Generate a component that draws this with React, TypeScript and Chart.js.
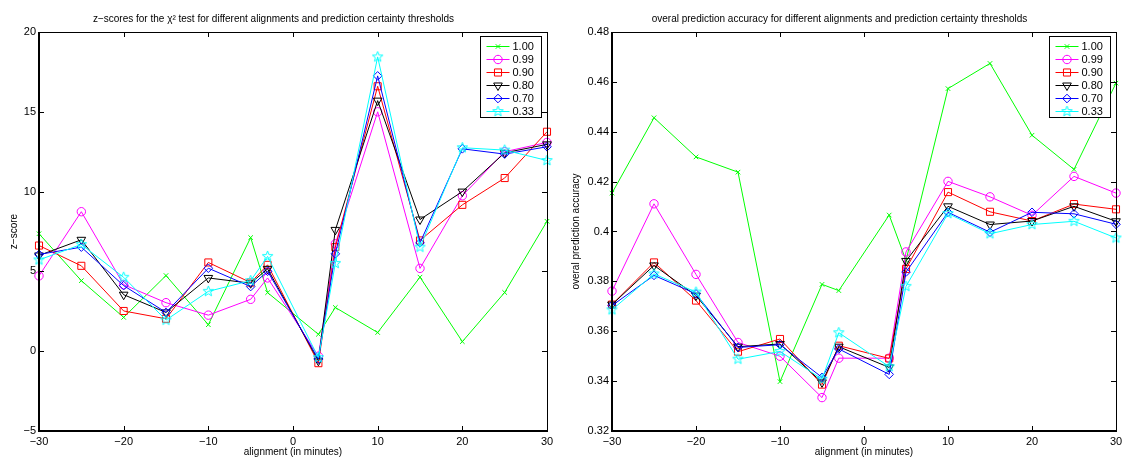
import React, { useEffect, useRef } from 'react';
import { Chart, registerables } from 'chart.js';
import { drawPoint } from 'chart.js/helpers';

Chart.register(...registerables);

// ---- data ----
const alignments = [-30, -25, -20, -15, -10, -5, -3, 3, 5, 10, 15, 20, 25, 30];
const thresholds = ['1.00', '0.99', '0.90', '0.80', '0.70', '0.33'];

const z100 = [7.36, 4.42, 2.12, 4.74, 1.66, 7.12, 3.67, 1.06, 2.74, 1.17, 4.64, 0.6, 3.68, 8.14];
const z099 = [4.72, 8.74, 4.17, 3.04, 2.26, 3.25, 4.59, -0.31, 6.73, 15.0, 5.19, 9.74, 12.5, 13.08];
const z090 = [6.62, 5.35, 2.52, 2.03, 5.56, 4.3, 5.41, -0.75, 6.52, 16.6, 6.94, 9.17, 10.85, 13.75];
const z080 = [6.0, 6.98, 3.54, 2.43, 4.59, 4.26, 5.16, -0.6, 7.6, 15.7, 8.25, 10.0, 12.43, 12.96];
const z070 = [6.06, 6.52, 4.11, 2.43, 5.2, 4.05, 5.01, -0.5, 6.1, 17.25, 6.79, 12.68, 12.35, 12.81];
const z033 = [5.72, 6.69, 4.63, 1.95, 3.75, 4.42, 5.94, -0.4, 5.5, 18.44, 6.52, 12.75, 12.6, 11.95];

const a100 = [0.4154, 0.4456, 0.4299, 0.4238, 0.3398, 0.3788, 0.3763, 0.4066, 0.3884, 0.4573, 0.4674, 0.4386, 0.4249, 0.4595];
const a099 = [0.3761, 0.4111, 0.3828, 0.3555, 0.35, 0.3334, 0.3492, 0.3492, 0.3918, 0.4201, 0.4139, 0.4065, 0.4221, 0.4154];
const a090 = [0.3707, 0.3876, 0.3723, 0.3518, 0.3569, 0.3386, 0.3542, 0.3491, 0.385, 0.4158, 0.4079, 0.4042, 0.411, 0.4089];
const a080 = [0.3707, 0.3864, 0.3743, 0.3538, 0.3549, 0.3395, 0.3538, 0.3455, 0.3882, 0.4101, 0.4028, 0.4042, 0.4101, 0.4041];
const a070 = [0.3703, 0.3824, 0.375, 0.3535, 0.3546, 0.3415, 0.3529, 0.3427, 0.3837, 0.4077, 0.3997, 0.4077, 0.4071, 0.4029];
const a033 = [0.3686, 0.383, 0.3757, 0.3488, 0.3519, 0.3408, 0.3594, 0.3458, 0.378, 0.4072, 0.3991, 0.4028, 0.4041, 0.3974];

const xTicks = { min: -30, max: 30, step: 10 };
const zTicks = { min: -5, max: 20, step: 5 };
const aTicks = { min: 0.32, max: 0.48, step: 0.02 };

const colors = ['#00ff00', '#ff00ff', '#ff0000', '#000000', '#0000ff', '#00ffff'];

// ---- helpers ----
function makeStar(color: string, r: number) {
  const c = document.createElement('canvas');
  const s = Math.ceil(r * 2 + 2);
  c.width = s;
  c.height = s;
  const ctx = c.getContext('2d')!;
  ctx.strokeStyle = color;
  ctx.lineWidth = 1;
  ctx.beginPath();
  for (let i = 0; i < 10; i++) {
    const ang = -Math.PI / 2 + (i * Math.PI) / 5;
    const rr = i % 2 === 0 ? r : r * 0.42;
    ctx.lineTo(s / 2 + rr * Math.cos(ang), s / 2 + rr * Math.sin(ang));
  }
  ctx.closePath();
  ctx.stroke();
  return c;
}

const FONT = '"Liberation Sans", Arial, Helvetica, sans-serif';
Chart.defaults.font.family = FONT;

const minus = (s: string) => s.replace('-', '\u2212');

function markerStyles() {
  return [
    { pointStyle: 'crossRot', radius: 3.2, rotation: 0 },
    { pointStyle: 'circle', radius: 4.2, rotation: 0 },
    { pointStyle: 'rect', radius: 5, rotation: 0 },
    { pointStyle: 'triangle', radius: 5, rotation: 180 },
    { pointStyle: 'rectRot', radius: 4.3, rotation: 0 },
    { pointStyle: makeStar('#00ffff', 5.5) as any, radius: 5, rotation: 0 },
  ];
}

const boxPlugin = {
  id: 'matlabBox',
  afterDraw(chart: any) {
    const { ctx, chartArea } = chart;
    const { left, right, top, bottom } = chartArea;
    const xs = chart.scales.x;
    const ys = chart.scales.y;
    ctx.save();
    ctx.strokeStyle = '#000';
    ctx.lineWidth = 1;
    const tl = 5;
    ctx.beginPath();
    xs.ticks.forEach((t: any) => {
      const px = Math.round(xs.getPixelForValue(t.value)) + 0.5;
      ctx.moveTo(px, bottom);
      ctx.lineTo(px, bottom - tl);
      ctx.moveTo(px, top);
      ctx.lineTo(px, top + tl);
    });
    ys.ticks.forEach((t: any) => {
      const py = Math.round(ys.getPixelForValue(t.value)) + 0.5;
      ctx.moveTo(left, py);
      ctx.lineTo(left + tl, py);
      ctx.moveTo(right, py);
      ctx.lineTo(right - tl, py);
    });
    ctx.stroke();
    // box
    ctx.beginPath();
    ctx.moveTo(left, top + 0.5);
    ctx.lineTo(right, top + 0.5);
    ctx.moveTo(right + 0.5, top);
    ctx.lineTo(right + 0.5, bottom);
    ctx.stroke();
    ctx.lineWidth = 2;
    ctx.beginPath();
    ctx.moveTo(left, top);
    ctx.lineTo(left, bottom);
    ctx.lineTo(right + 1, bottom);
    ctx.stroke();

    // legend
    const lw = 61;
    const lh = 81;
    const lx = Math.round(right - 6 - lw) + 0.5;
    const ly = Math.round(top + 4) + 0.5;
    ctx.fillStyle = '#fff';
    ctx.fillRect(lx, ly, lw, lh);
    ctx.lineWidth = 1;
    ctx.strokeStyle = '#000';
    ctx.strokeRect(lx, ly, lw, lh);
    ctx.font = '11px ' + FONT;
    ctx.textBaseline = 'middle';
    ctx.textAlign = 'left';
    chart.data.datasets.forEach((ds: any, i: number) => {
      const y = Math.round(ly + 9 + i * 13) + 0.5;
      ctx.strokeStyle = ds.borderColor;
      ctx.lineWidth = 1;
      ctx.beginPath();
      ctx.moveTo(lx + 6, y);
      ctx.lineTo(lx + 29, y);
      ctx.stroke();
      ctx.fillStyle = 'rgba(0,0,0,0)';
      drawPoint(ctx, {
        pointStyle: ds.pointStyle,
        radius: ds.pointRadius,
        rotation: ds.pointRotation,
        borderWidth: 1,
      } as any, lx + 17.5, y);
      ctx.fillStyle = '#000';
      ctx.fillText(ds.label, lx + 32, y + 0.5);
    });
    ctx.restore();
  },
};

interface PanelProps {
  title: string;
  yTitle: string;
  series: number[][];
  yRange: { min: number; max: number; step: number };
  yFmt: (v: number) => string;
  yAxisWidth: number;
  rightPad: number;
  yTitlePad: number;
  left: number;
}

function Panel(props: PanelProps) {
  const ref = useRef<HTMLCanvasElement>(null);
  useEffect(() => {
    const styles = markerStyles();
    const n = props.series.length;
    const chart = new Chart(ref.current!, {
      type: 'line',
      data: {
        datasets: props.series.map((vals, i) => ({
          label: thresholds[i],
          data: alignments.map((x, j) => ({ x, y: vals[j] })),
          borderColor: colors[i],
          backgroundColor: 'rgba(0,0,0,0)',
          borderWidth: 1,
          pointStyle: styles[i].pointStyle,
          pointRadius: styles[i].radius,
          pointRotation: styles[i].rotation,
          pointBorderColor: colors[i],
          pointBackgroundColor: 'rgba(0,0,0,0)',
          pointBorderWidth: 1,
          tension: 0,
          clip: false as any,
          order: n - 1 - i,
        })),
      },
      options: {
        responsive: false,
        animation: false,
        events: [],
        layout: { padding: { left: 0, right: props.rightPad, top: 0, bottom: 0 } },
        plugins: {
          legend: { display: false },
          tooltip: { enabled: false },
          title: {
            display: true,
            text: props.title,
            color: '#000',
            font: { size: 10, weight: 'normal', family: FONT },
            padding: { top: 13, bottom: 7 },
          },
        },
        scales: {
          x: {
            type: 'linear',
            min: xTicks.min,
            max: xTicks.max,
            ticks: {
              stepSize: xTicks.step,
              color: '#000',
              font: { size: 11, family: FONT },
              padding: 4,
              maxRotation: 0,
              autoSkip: false,
              callback: (v: any) => minus(String(v)),
            },
            grid: { display: false, drawTicks: false },
            border: { display: false },
            title: {
              display: true,
              text: 'alignment (in minutes)',
              color: '#000',
              font: { size: 10, family: FONT },
              padding: { top: 0, bottom: 2 },
            },
            afterFit: (s: any) => {
              s.height = 29;
              s.paddingLeft = 0;
              s.paddingRight = 0;
            },
          },
          y: {
            type: 'linear',
            min: props.yRange.min,
            max: props.yRange.max,
            ticks: {
              stepSize: props.yRange.step,
              color: '#000',
              font: { size: 11, family: FONT },
              padding: 3,
              autoSkip: false,
              callback: (v: any) => props.yFmt(Number(v)),
            },
            grid: { display: false, drawTicks: false },
            border: { display: false },
            title: {
              display: true,
              text: props.yTitle,
              color: '#000',
              font: { size: 10, family: FONT },
              padding: { top: props.yTitlePad, bottom: 0 },
            },
            afterFit: (s: any) => {
              s.width = props.yAxisWidth;
              s.paddingTop = 0;
              s.paddingBottom = 0;
            },
          },
        },
      } as any,
      plugins: [boxPlugin],
    });
    return () => chart.destroy();
  }, []);
  return (
    <canvas
      ref={ref}
      width={561}
      height={460}
      style={{ position: 'absolute', left: props.left, top: 0, width: 561, height: 460, display: 'block' }}
    />
  );
}

export default function App() {
  return (
    <div style={{ position: 'absolute', left: 0, top: 0, width: 1122, height: 460, background: '#fff', overflow: 'hidden' }}>
      <Panel
        left={0}
        title={'z\u2212scores for the \u03C7\u00B2 test for different alignments and prediction certainty thresholds'}
        yTitle={'z\u2212score'}
        series={[z100, z099, z090, z080, z070, z033]}
        yRange={zTicks}
        yFmt={(v) => minus(String(v))}
        yAxisWidth={39}
        rightPad={14}
        yTitlePad={8}
      />
      <Panel
        left={561}
        title={'overal prediction accuracy for different alignments and prediction certainty thresholds'}
        yTitle={'overal prediction accuracy'}
        series={[a100, a099, a090, a080, a070, a033]}
        yRange={aTicks}
        yFmt={(v) => String(Number(v.toFixed(2)))}
        yAxisWidth={51}
        rightPad={4}
        yTitlePad={9}
      />
    </div>
  );
}
